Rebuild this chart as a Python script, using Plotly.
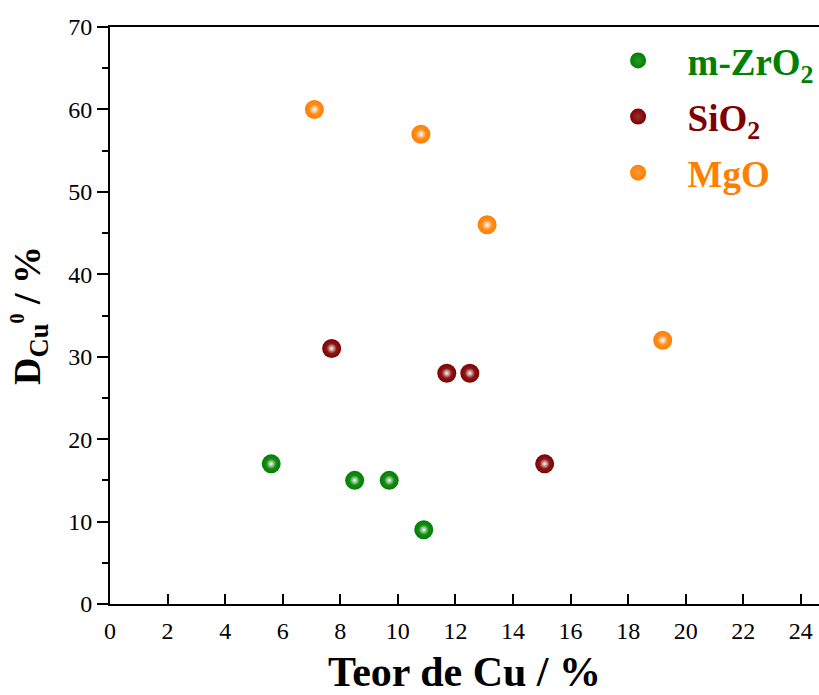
import plotly.graph_objects as go

# Data
series_names = ["m-ZrO<sub>2</sub>", "SiO<sub>2</sub>", "MgO"]
series_colors = ["#008000", "#800000", "#FF8000"]
center_colors = ["#2a962a", "#963030", "#ff9a3a"]

zro2_x = [5.6, 8.5, 9.7, 10.9]
zro2_y = [17, 15, 15, 9]
sio2_x = [7.7, 11.7, 12.5, 15.1]
sio2_y = [31, 28, 28, 17]
mgo_x = [7.1, 10.8, 13.1, 19.2]
mgo_y = [60, 57, 46, 32]

xs = [zro2_x, sio2_x, mgo_x]
ys = [zro2_y, sio2_y, mgo_y]

x_ticks = list(range(0, 25, 2))
y_ticks = list(range(0, 71, 10))

FONT = "Liberation Serif, Times New Roman, serif"

fig = go.Figure()
for i in range(3):
    fig.add_trace(go.Scatter(
        x=xs[i], y=ys[i], mode="markers",
        name='<span style="color:%s">%s</span>' % (series_colors[i], series_names[i]),
        legendgroup="g%d" % i,
        marker=dict(size=19, color=series_colors[i],
                    gradient=dict(type="radial", color=center_colors[i]),
                    line=dict(width=0)),
    ))
# specular highlight on each sphere (same data points)
for i in range(3):
    fig.add_trace(go.Scatter(
        x=xs[i], y=ys[i], mode="markers", showlegend=False, hoverinfo="skip",
        marker=dict(size=10, color="rgba(255,255,255,0)",
                    gradient=dict(type="radial", color="rgba(255,255,255,0.95)"),
                    line=dict(width=0)),
    ))

fig.update_layout(
    width=819, height=695,
    margin=dict(l=110, r=0, t=27, b=91, autoexpand=False),
    plot_bgcolor="white", paper_bgcolor="white",
    font=dict(family=FONT, color="black", size=24),
    showlegend=True,
    legend=dict(
        x=0.675, y=0.995, xanchor="left", yanchor="top",
        font=dict(family=FONT, size=37, weight="bold"),
        itemwidth=89, tracegroupgap=5,
        bgcolor="rgba(0,0,0,0)",
    ),
    xaxis=dict(
        range=[0, 24.63], tickvals=x_ticks, ticktext=[str(v) for v in x_ticks],
        ticks="inside", ticklen=10, tickwidth=2, tickcolor="black",
        showline=True, linewidth=2, linecolor="black", mirror=True,
        showgrid=False, zeroline=False, automargin=True,
        tickfont=dict(size=24), ticklabelstandoff=4,
        title=dict(text="<b>Teor de Cu / %</b>", font=dict(size=42), standoff=28),
    ),
    yaxis=dict(
        range=[0, 70], tickvals=y_ticks, ticktext=[str(v) for v in y_ticks],
        ticks="outside", ticklen=11, tickwidth=2, tickcolor="black",
        minor=dict(dtick=5, ticks="outside", ticklen=6, tickwidth=2, tickcolor="black"),
        showline=True, linewidth=2, linecolor="black",
        showgrid=False, zeroline=False, automargin=False,
        tickfont=dict(size=24),
        title=dict(text="<b>D<sub>Cu</sub><sup><span style='font-size:20px'>0</span></sup> / %</b>",
                   font=dict(size=38), standoff=16),
    ),
)

fig.write_html("out.html")
